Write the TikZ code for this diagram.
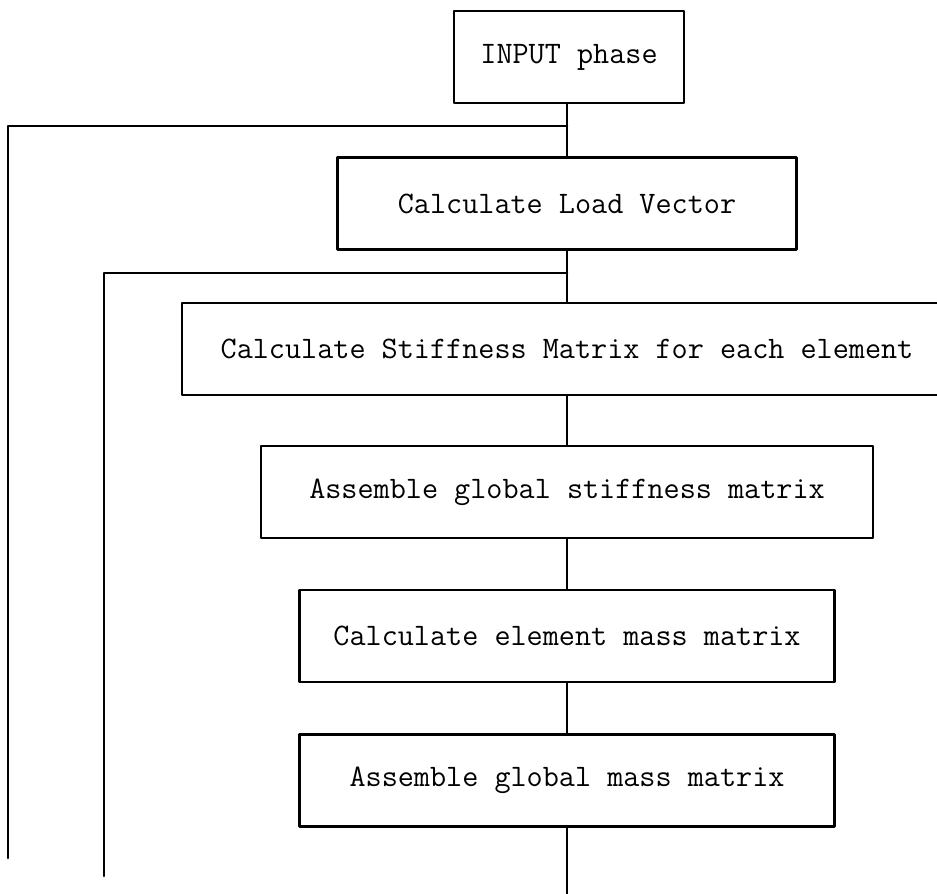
\documentclass[tikz,border=0pt]{standalone}
\begin{document}
\begin{tikzpicture}[font=\fontsize{17.8pt}{20pt}\selectfont\ttfamily, line join=round, line cap=round, line width=1.5pt,
	box/.style={draw, inner sep=0pt, minimum height=1.84cm}]
	\def\cx{11.34} % axis of the chart
	\def\xmax{18.74} \def\ymin{-17.86}
	\clip (0,0) rectangle (\xmax,\ymin);
	\node[box, minimum width=4.6cm]  (input)    at (\cx+0.04,-1.14)  {INPUT phase};
	\node[box, minimum width=9.18cm] (load)     at (\cx,-4.07)  {Calculate Load Vector};
	\node[box, minimum width=15.4cm] (stiff)    at (\cx,-6.98)  {Calculate Stiffness Matrix for each element};
	\node[box, minimum width=12.24cm](asmstiff) at (\cx,-9.84)  {Assemble global stiffness matrix};
	\node[box, minimum width=10.7cm] (elmass)   at (\cx,-12.72) {Calculate element mass matrix};
	\node[box, minimum width=10.7cm] (asmmass)  at (\cx,-15.61) {Assemble global mass matrix};
	% return lines
	\coordinate (jA) at (\cx,-2.52);   \coordinate (endA) at (0.16,-17.16);
	\coordinate (jB) at (\cx,-5.46);   \coordinate (endB) at (2.08,-17.52);
	\coordinate (out) at (\cx,\ymin-0.2);
	\draw (input.south-|jA) -- (load);
	\draw (load) -- (stiff);
	\draw (stiff) -- (asmstiff);
	\draw (asmstiff) -- (elmass);
	\draw (elmass) -- (asmmass);
	\draw (asmmass) -- (out);
	\draw (jA) -| (endA);
	\draw (jB) -| (endB);
\end{tikzpicture}
\end{document}
